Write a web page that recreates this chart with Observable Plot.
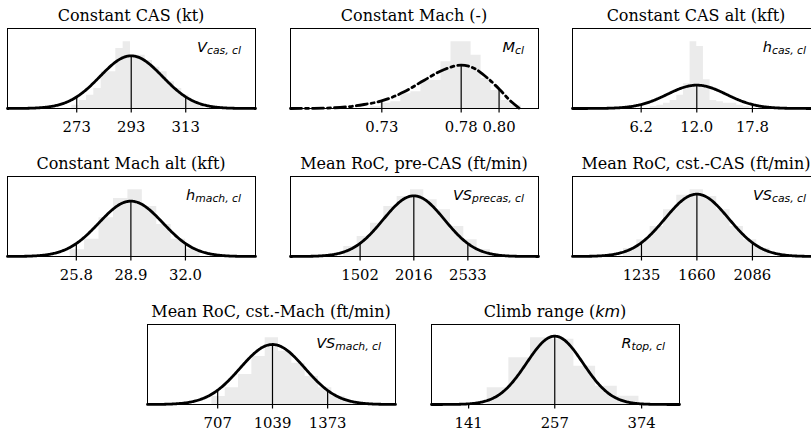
<!DOCTYPE html>
<html><head><meta charset="utf-8">
<script src="https://cdn.jsdelivr.net/npm/d3@7"></script>
<script src="https://cdn.jsdelivr.net/npm/@observablehq/plot@0.6"></script>
<style>
html,body{margin:0;padding:0;background:#fff;}
#chart{position:relative;width:811px;height:432px;overflow:hidden;background:#fff;}
#chart svg{position:absolute;overflow:visible;}
</style></head><body><div id="chart"></div>
<script>
// ---- data ----
const titles = ["Constant CAS (kt)", "Constant Mach (-)", "Constant CAS alt (kft)", "Constant Mach alt (kft)",
  "Mean RoC, pre-CAS (ft/min)", "Mean RoC, cst.-CAS (ft/min)", "Mean RoC, cst.-Mach (ft/min)", "Climb range ($km$)"];
const symbols = ["V", "M", "h", "h", "VS", "VS", "VS", "R"];
const subscripts = ["cas, cl", "cl", "cas, cl", "mach, cl", "precas, cl", "cas, cl", "mach, cl", "top, cl"];
const xDomains = [[247.6, 338.6], [0.6765, 0.8218], [-0.96, 24.9], [21.89, 35.98], [836, 3209], [706, 2608], [282, 1784], [91, 425]];
const tickValues = [[273, 293, 313], [0.73, 0.7765, 0.7987], [6.2, 12.0, 17.8], [25.8, 28.9, 32.0],
  [1502, 2016, 2533], [1235, 1660, 2086], [707, 1039, 1373], [141, 257, 374]];
const tickLabels = [["273", "293", "313"], ["0.73", "0.78", "0.80"], ["6.2", "12.0", "17.8"], ["25.8", "28.9", "32.0"],
  ["1502", "2016", "2533"], ["1235", "1660", "2086"], ["707", "1039", "1373"], ["141", "257", "374"]];
// normal fits (mean, sd, peak density relative to tallest histogram bar)
const fitMean = [293, null, 12.0, 28.9, 2016, 1660, 1039, 257];
const fitSd = [11.5, null, 3.08, 1.82, 294, 245, 196, 38];
const fitPeak = [0.79, null, 0.35, 0.83, 0.91, 0.935, 0.9, 1.025];
// skewed fit for Mach
const machCurveX = [0.6765, 0.6902, 0.7098, 0.7196, 0.7294, 0.7431, 0.7549, 0.7666, 0.7765, 0.7843, 0.7922, 0.7990, 0.8059, 0.8108];
const machCurveY = [0, 0.002, 0.025, 0.06, 0.11, 0.25, 0.425, 0.585, 0.65, 0.60, 0.45, 0.285, 0.10, 0];
const machTickHeights = [0.11, 0.65, 0.28];
// histograms (relative heights)
const histStart = [271.2, 0.7235, 7.14, 25.45, 1346, 1097, 672, 166];
const histWidth = [2.69, 0.00588, 0.694, 0.82, 127.6, 102.2, 80.7, 29.2];
const histHeights = [
  [0.05, 0.12, 0.2, 0.3, 0.55, 0.55, 0.9, 1.0, 0.8, 0.8, 0.72, 0.62, 0.55, 0.4, 0.3, 0.2, 0.1, 0.05],
  [0.03, 0.08, 0.1, 0.22, 0.25, 0.42, 0.42, 0.7, 1.0, 1.0, 0.8, 0.45, 0.27, 0.12, 0.05],
  [0.03, 0.05, 0.08, 0.12, 0.2, 0.37, 1.0, 0.93, 0.43, 0.12, 0.1, 0.08, 0.08, 0.05, 0.03],
  [0.1, 0.26, 0.58, 0.87, 1.0, 0.75, 0.48, 0.26, 0.11],
  [0.15, 0.3, 0.5, 0.75, 0.9, 1.0, 0.85, 0.7, 0.45, 0.25, 0.1],
  [0.12, 0.25, 0.45, 0.7, 0.92, 1.0, 0.9, 0.7, 0.45, 0.25, 0.12],
  [0.12, 0.25, 0.45, 0.72, 1.0, 0.8, 0.62, 0.42, 0.25, 0.12, 0.05],
  [0.25, 0.70, 1.0, 0.98, 0.575, 0.275, 0.125]
];

// ---- layout ----
const ML = 40, MR = 40, MT = 30, MB = 30, FW = 248, FH = 80;
const frameLeft = [7, 290, 572, 7, 290, 572, 147, 431];
const frameTop = [28, 28, 28, 176, 176, 176, 324, 324];
const serif = "DejaVu Serif";
const chart = document.getElementById("chart");

function titleMark(i) {
  return (index, scales, values, dim) => {
    const t = d3.create("svg:text")
      .attr("x", dim.marginLeft + (dim.width - dim.marginLeft - dim.marginRight) / 2)
      .attr("y", dim.marginTop - 7.5)
      .attr("text-anchor", "middle").attr("font-family", serif).attr("font-size", 16).attr("fill", "#000");
    titles[i].split("$").forEach((s, k) => {
      if (!s) return;
      const ts = t.append("tspan").text(s);
      if (k % 2) ts.attr("font-family", "DejaVu Sans").attr("font-style", "italic");
    });
    return t.node();
  };
}
function labelMark(i) {
  return (index, scales, values, dim) => {
    const t = d3.create("svg:text")
      .attr("x", dim.width - dim.marginRight - 14)
      .attr("y", dim.marginTop + 23.5)
      .attr("text-anchor", "end").attr("font-family", "DejaVu Sans").attr("font-style", "italic")
      .attr("font-size", 14.5).attr("fill", "#000");
    t.append("tspan").text(symbols[i]);
    t.append("tspan").attr("font-size", 10.8).attr("dy", 2.5).text(subscripts[i]);
    return t.node();
  };
}

for (let i = 0; i < titles.length; i++) {
  const [d0, d1] = xDomains[i];
  let curve, tickTop;
  if (fitMean[i] != null) {
    const g = x => fitPeak[i] * Math.exp(-0.5 * ((x - fitMean[i]) / fitSd[i]) ** 2);
    curve = d3.range(0, 301).map(k => { const x = d0 + (d1 - d0) * k / 300; return {x, y: g(x)}; });
    tickTop = tickValues[i].map(g);
  } else {
    curve = machCurveX.map((x, k) => ({x, y: machCurveY[k]}));
    tickTop = machTickHeights;
  }
  const hist = histHeights[i].map((h, k) => ({x: histStart[i] + k * histWidth[i], y: h}));
  hist.push({x: histStart[i] + histHeights[i].length * histWidth[i], y: 0});
  const ticks = tickValues[i].map((v, k) => ({v, top: tickTop[k], label: tickLabels[i][k]}));
  const lineOpts = {x: "x", y: "y", stroke: "#000", strokeWidth: 2.8};
  if (i === 1) { lineOpts.curve = "monotone-x"; lineOpts.strokeDasharray = "11,4,3,4"; }
  const svg = Plot.plot({
    width: FW + ML + MR, height: FH + MT + MB,
    marginLeft: ML, marginRight: MR, marginTop: MT, marginBottom: MB,
    x: {domain: xDomains[i], axis: null},
    y: {domain: [0, 1.2], axis: null},
    style: {background: "transparent", overflow: "visible"},
    marks: [
      Plot.areaY(hist, {x: "x", y: "y", curve: "step-after", fill: "#ebebeb"}),
      Plot.ruleX(ticks, {x: "v", y1: 0, y2: "top", stroke: "#000", strokeWidth: 1.2}),
      Plot.axisX(tickValues[i], {tickSize: 4.5, tickFormat: () => "", stroke: "#000", strokeWidth: 1.2}),
      Plot.line(curve, lineOpts),
      Plot.frame({stroke: "#000", strokeWidth: 1}),
      Plot.text(ticks, {x: "v", text: "label", frameAnchor: "bottom", dy: 23.5, lineAnchor: "bottom",
        fontFamily: serif, fontSize: 14.8, fill: "#000"}),
      titleMark(i),
      labelMark(i)
    ]
  });
  svg.style.left = (frameLeft[i] - ML) + "px";
  svg.style.top = (frameTop[i] - MT) + "px";
  chart.appendChild(svg);
}
</script>
</body></html>
